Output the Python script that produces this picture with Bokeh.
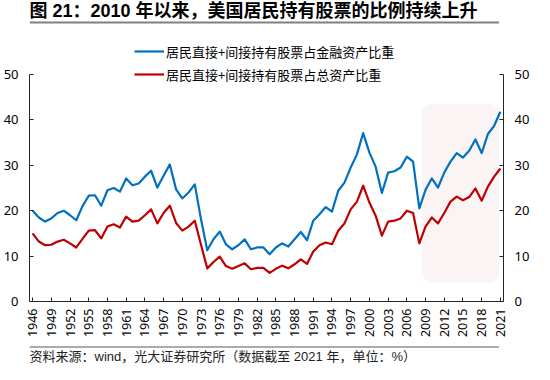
import math
from bokeh.plotting import figure
from bokeh.layouts import column
from bokeh.models import (Range1d, LinearAxis, FixedTicker, BoxAnnotation, Label,
                          Legend, LegendItem)
from bokeh.embed import file_html
from bokeh.resources import INLINE

# ---------------- data ----------------
years = list(range(1946, 2022))

# 居民直接+间接持有股票占金融资产比重 (%)
financial_share = [
    20.0, 18.5, 17.6, 18.3, 19.5, 20.0, 19.0, 17.9, 21.0, 23.3,   # 1946-1955
    23.4, 21.1, 24.5, 25.0, 24.2, 27.1, 25.6, 26.0, 27.5, 28.8,   # 1956-1965
    25.1, 27.7, 30.2, 24.7, 22.7, 24.0, 25.8, 18.1, 11.3, 13.7,   # 1966-1975
    15.4, 12.6, 11.5, 12.4, 13.7, 11.5, 11.9, 11.9, 10.4, 11.9,   # 1976-1985
    12.8, 12.1, 13.7, 15.3, 13.5, 17.8, 19.2, 20.8, 19.8, 24.4,   # 1986-1995
    26.2, 29.5, 32.4, 37.1, 32.8, 29.7, 23.9, 28.4, 28.7, 29.5,   # 1996-2005
    31.9, 30.8, 20.5, 24.6, 27.1, 25.1, 28.4, 30.8, 32.7, 31.7,   # 2006-2015
    33.2, 35.7, 32.7, 36.9, 38.7, 41.8,                           # 2016-2021
]

# 居民直接+间接持有股票占总资产比重 (%)
total_share = [
    15.0, 13.2, 12.4, 12.5, 13.2, 13.6, 12.8, 11.9, 13.8, 15.6,   # 1946-1955
    15.7, 13.9, 16.5, 17.0, 16.3, 18.7, 17.6, 17.8, 19.0, 20.3,   # 1956-1965
    17.2, 19.5, 21.1, 17.3, 15.6, 16.5, 17.8, 12.5, 7.3, 8.7,     # 1966-1975
    9.9, 7.8, 7.2, 7.8, 8.4, 7.1, 7.4, 7.4, 6.3, 7.2,             # 1976-1985
    7.9, 7.3, 8.2, 9.3, 8.3, 11.0, 12.4, 13.0, 12.6, 15.6,        # 1986-1995
    17.2, 20.3, 22.0, 25.5, 21.8, 18.9, 14.5, 17.6, 17.8, 18.3,   # 1996-2005
    20.0, 19.5, 12.8, 16.5, 18.5, 17.2, 19.5, 22.0, 23.1, 22.3,   # 2006-2015
    23.0, 24.9, 22.2, 25.3, 27.5, 29.3,                           # 2016-2021
]

series_names = ["居民直接+间接持有股票占金融资产比重", "居民直接+间接持有股票占总资产比重"]
x_tick_years = list(range(1946, 2022, 3))
y_ticks = [0, 10, 20, 30, 40, 50]

title_text = "图 21：2010 年以来，美国居民持有股票的比例持续上升"
source_text = "资料来源：wind，光大证券研究所（数据截至 2021 年，单位：%）"

# ---------------- style ----------------
BLUE = "#0070C0"
RED = "#C00000"
AXIS = "#262626"
CJK = "Noto Sans CJK SC"
HEAD_FONT = "Liberation Sans, Noto Sans CJK SC"
NUM = "Noto Sans"
W = 534

# ---------------- header (title + rule) ----------------
HH = 26
header = figure(width=W, height=HH, output_backend="svg", toolbar_location=None,
                x_range=Range1d(0, W), y_range=Range1d(HH, 0),
                min_border=0, x_axis_type=None, y_axis_type=None)
header.outline_line_color = None
header.grid.visible = False
header.add_layout(Label(x=0, y=0.5, text=title_text, text_font=HEAD_FONT,
                        text_font_size="18px", text_font_style="bold",
                        text_color="#000000", text_baseline="top", text_align="left"))
header.add_layout(BoxAnnotation(left=0, right=529, top=21, bottom=23,
                                fill_color="#808080", fill_alpha=1.0, line_alpha=0))

# ---------------- chart ----------------
CH = 314            # chart figure height (window y 34..348)
FRAME_H = 275       # frame height: top of figure to the x axis
AX_H = 227          # pixel height of the 0..50 scale
y_top = y_ticks[-1] * FRAME_H / AX_H

p = figure(width=W, height=CH, output_backend="svg", toolbar_location=None,
           x_range=Range1d(1945.5, 2021.5), y_range=Range1d(0, y_top),
           min_border_left=29, min_border_right=31, min_border_top=0,
           min_border_bottom=CH - FRAME_H)
p.outline_line_color = None
p.grid.visible = False
p.background_fill_color = "white"
p.border_fill_color = "white"

# highlighted recent period
hl = BoxAnnotation(left=2008.4, right=2020.9, bottom=4.2, top=43.5,
                   fill_color="#FAF4F4", fill_alpha=1.0, line_alpha=0,
                   border_radius=10, level="underlay")
p.add_layout(hl)

r1 = p.line(years, financial_share, line_color=BLUE, line_width=2.2, line_join="round")
r2 = p.line(years, total_share, line_color=RED, line_width=2.2, line_join="round")

def style_axis(ax):
    ax.axis_line_color = AXIS
    ax.axis_line_width = 1
    ax.major_tick_line_color = AXIS
    ax.major_tick_in = 4
    ax.major_tick_out = 0
    ax.minor_tick_line_color = None
    ax.major_label_text_color = "#000000"
    ax.major_label_text_font = NUM
    ax.major_label_text_font_size = "13px"

xa = p.xaxis[0]
xa.ticker = FixedTicker(ticks=x_tick_years)
style_axis(xa)
xa.major_label_orientation = math.pi / 2
xa.major_label_standoff = 7
xa.major_label_text_font_size = "12.5px"

ya = p.yaxis[0]
ya.ticker = FixedTicker(ticks=y_ticks)
ya.bounds = (y_ticks[0], y_ticks[-1])
style_axis(ya)
ya.major_label_standoff = 11

yr = LinearAxis(ticker=FixedTicker(ticks=y_ticks), bounds=(y_ticks[0], y_ticks[-1]))
style_axis(yr)
yr.major_label_standoff = 11
p.add_layout(yr, "right")

legend = Legend(items=[LegendItem(label=series_names[0], renderers=[r1]),
                       LegendItem(label=series_names[1], renderers=[r2])],
                location=(105, 217), orientation="vertical",
                glyph_width=30, glyph_height=20, label_height=20, label_width=10,
                spacing=3, padding=0, margin=0, label_standoff=2,
                label_text_font=CJK, label_text_font_size="13px",
                label_text_color="#000000",
                border_line_color=None, background_fill_alpha=0)
p.add_layout(legend)

# ---------------- footer (rule + source) ----------------
FH = 24
footer = figure(width=W, height=FH, output_backend="svg", toolbar_location=None,
                x_range=Range1d(0, W), y_range=Range1d(FH, 0),
                min_border=0, x_axis_type=None, y_axis_type=None)
footer.outline_line_color = None
footer.grid.visible = False
footer.add_layout(BoxAnnotation(left=0, right=529, top=6, bottom=7,
                                fill_color="#595959", fill_alpha=1.0, line_alpha=0))
footer.add_layout(Label(x=0, y=23.5, text=source_text, text_font=HEAD_FONT,
                        text_font_size="13px", text_color="#222222",
                        text_baseline="bottom", text_align="left"))

layout = column(header, p, footer, spacing=0)
open("out.html", "w").write(file_html(layout, INLINE))
